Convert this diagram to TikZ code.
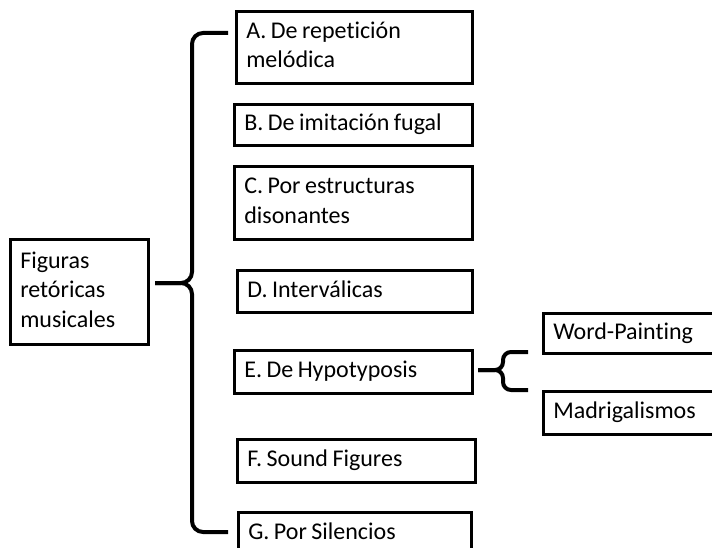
\documentclass[tikz,border=0pt]{standalone}
\usepackage{fontspec}
\setmainfont{Carlito}[Ligatures=NoCommon]
\newcommand{\lines}[1]{\spaceskip=4.5pt plus 0pt minus 0pt\relax\begin{tabular}{@{}l@{}}#1\end{tabular}}
\begin{document}
\begin{tikzpicture}[x=1pt,y=-1pt,
  box/.style={draw=black, line width=2.6pt, anchor=north west, inner xsep=10pt, inner ysep=0pt, font=\fontsize{24}{29.5}\selectfont, text=black},
  brace/.style={draw=black, line width=4pt, rounded corners=11pt},
  smallbrace/.style={draw=black, line width=4pt, rounded corners=8pt}]
\useasboundingbox (0,0) rectangle (712,548);
\fill[white] (0,0) rectangle (712,548);
% root
\node[box, minimum width=138pt, minimum height=105pt, text width=118pt] (root) at (9,238) {\lines{Figuras\\retóricas\\musicales}};
% branches
\node[box, minimum width=236pt, minimum height=72pt, text width=216pt] (A) at (235,10) {\lines{A. De repetición\\melódica}};
\node[box, minimum width=238pt, minimum height=41pt, text width=218pt] (B) at (233,103) {\lines{B. De imitación fugal}};
\node[box, minimum width=238pt, minimum height=73pt, text width=218pt] (C) at (233,165) {\lines{C. Por estructuras\\disonantes}};
\node[box, minimum width=235pt, minimum height=42pt, text width=215pt] (D) at (236,269) {\lines{D. Interválicas}};
\node[box, minimum width=238pt, minimum height=43pt, text width=218pt] (E) at (233,349) {\lines{E. De Hypotyposis}};
\node[box, minimum width=238pt, minimum height=43pt, text width=218pt] (F) at (236,438) {\lines{F. Sound Figures}};
\node[box, minimum width=233pt, minimum height=43pt, text width=213pt] (G) at (237,511) {\lines{G. Por Silencios}};
% sub-branches of E
\node[box, minimum width=200pt, minimum height=40pt, text width=180pt] (W) at (542,312) {\lines{Word-Painting}};
\node[box, minimum width=200pt, minimum height=43pt, text width=180pt] (M) at (542,390) {\lines{Madrigalismos}};
% big brace
\coordinate (bT) at (155,283);
\coordinate (bV) at (192,283);
\coordinate (bA) at (228,33);
\coordinate (bG) at (228,532);
\draw[brace] (bA) -- (bA -| bV) -- (bV) -- (bT);
\draw[brace] (bG) -- (bG -| bV) -- (bV) -- (bT);
% small brace
\coordinate (sT) at (478,370);
\coordinate (sV) at (503,370);
\coordinate (sW) at (528,352);
\coordinate (sM) at (528,390);
\draw[smallbrace] (sW) -- (sW -| sV) -- (sV) -- (sT);
\draw[smallbrace] (sM) -- (sM -| sV) -- (sV) -- (sT);
\end{tikzpicture}
\end{document}
